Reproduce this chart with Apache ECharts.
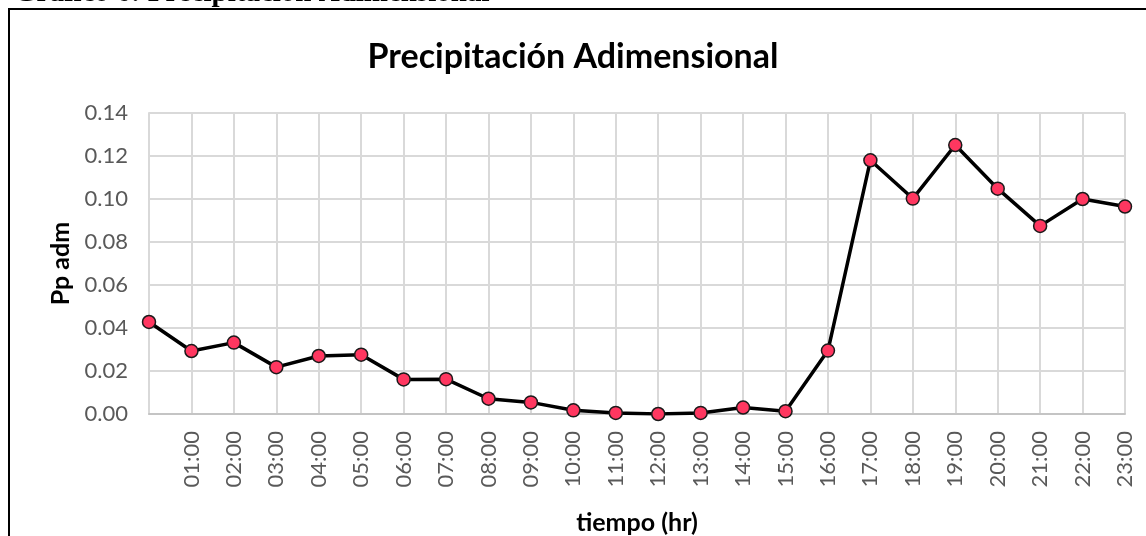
<!DOCTYPE html>
<html>
<head>
<meta charset="utf-8">
<script src="https://cdn.jsdelivr.net/npm/echarts@6/dist/echarts.min.js"></script>
<style>
  html, body { margin: 0; padding: 0; background: #fff; }
  #chart { width: 1146px; height: 536px; }
</style>
</head>
<body>
<div id="chart"></div>
<script>
// horas del día (la primera etiqueta no se muestra en el original)
var horas = ['', '01:00', '02:00', '03:00', '04:00', '05:00', '06:00', '07:00',
  '08:00', '09:00', '10:00', '11:00', '12:00', '13:00', '14:00', '15:00',
  '16:00', '17:00', '18:00', '19:00', '20:00', '21:00', '22:00', '23:00'];

// precipitación adimensional
var ppAdm = [0.0428, 0.0293, 0.0332, 0.0218, 0.0270, 0.0276, 0.0161, 0.0162,
  0.0071, 0.0054, 0.0017, 0.0005, 0.0000, 0.0005, 0.0030, 0.0013,
  0.0295, 0.1180, 0.1002, 0.1251, 0.1048, 0.0875, 0.1000, 0.0965];

var yTicks = { min: 0, max: 0.14, step: 0.02 };

var font = 'Lato, "Open Sans", sans-serif';
var myChart = echarts.init(document.getElementById('chart'));

var option = {
  animation: false,
  title: {
    text: 'Precipitación Adimensional',
    left: 'center',
    top: 35,
    textStyle: { fontFamily: font, fontSize: 34, fontWeight: 'bold', color: '#000' }
  },
  graphic: [
    {
      type: 'rect',
      shape: { x: 9, y: 9, width: 1160, height: 560 },
      style: { fill: 'none', stroke: '#000', lineWidth: 2 },
      silent: true
    },
    {
      type: 'text',
      style: {
        x: 14,
        y: 8.5,
        verticalAlign: 'bottom',
        text: 'Gráfico 6: Precipitación Adimensional',
        font: 'bold 29px "Liberation Serif", "DejaVu Serif", serif',
        fill: '#000'
      },
      silent: true
    }
  ],
  grid: { left: 149, right: 21, top: 113, bottom: 122, outerBoundsMode: 'none', containLabel: false },
  xAxis: {
    type: 'category',
    data: horas,
    boundaryGap: false,
    name: 'tiempo (hr)',
    nameLocation: 'middle',
    nameGap: 96,
    nameTextStyle: { fontFamily: font, fontSize: 25, fontWeight: 'bold', color: '#000' },
    axisLine: { lineStyle: { color: '#c4c4c4', width: 2 } },
    axisTick: { show: false },
    axisLabel: {
      rotate: 90,
      interval: 0,
      margin: 17,
      fontFamily: font,
      fontSize: 22,
      color: '#595959'
    },
    splitLine: { show: true, lineStyle: { color: '#d9d9d9', width: 2 } }
  },
  yAxis: {
    type: 'value',
    min: yTicks.min,
    max: yTicks.max,
    interval: yTicks.step,
    name: 'Pp adm',
    nameLocation: 'middle',
    nameGap: 74,
    nameTextStyle: { fontFamily: font, fontSize: 25, fontWeight: 'bold', color: '#000' },
    axisLine: { show: true, lineStyle: { color: '#d9d9d9', width: 2 } },
    axisTick: { show: false },
    axisLabel: {
      margin: 21,
      fontFamily: font,
      fontSize: 22,
      color: '#595959',
      formatter: function (v) { return v.toFixed(2); }
    },
    splitLine: { show: true, lineStyle: { color: '#d9d9d9', width: 2 } }
  },
  series: [{
    type: 'line',
    data: ppAdm,
    symbol: 'circle',
    symbolSize: 13,
    showAllSymbol: true,
    itemStyle: { color: '#ff3760', borderColor: '#1a1a1a', borderWidth: 1.5 },
    lineStyle: { color: '#000', width: 3.5 }
  }]
};

myChart.setOption(option);
</script>
</body>
</html>
